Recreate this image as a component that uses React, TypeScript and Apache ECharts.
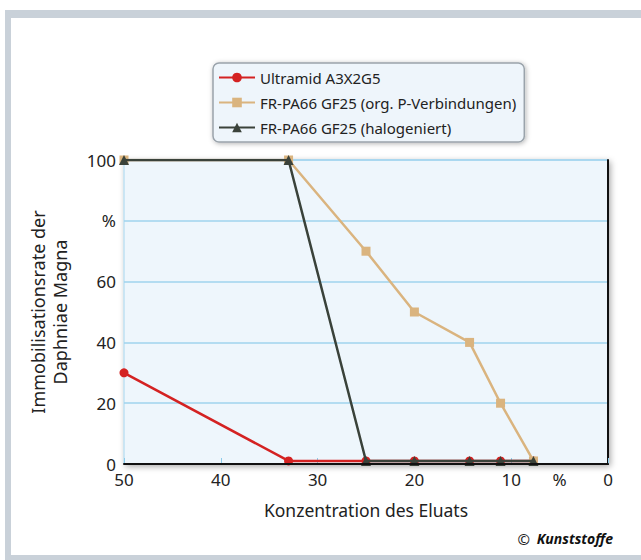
import React, { useEffect, useRef } from "react";
import * as echarts from "echarts";

const concentrations = [50, 33, 25, 20, 14.3, 11.1, 7.7];
const ultramid = [30, 1, 1, 1, 1, 1, 1];
const frOrgP = [100, 100, 70, 50, 40, 20, 1];
const frHalogen = [100, 100, 1, 1, 1, 1, 1];
const seriesNames = [
  "Ultramid A3X2G5",
  "FR-PA66 GF25 (org. P-Verbindungen)",
  "FR-PA66 GF25 (halogeniert)",
];
const yTickLabels: Record<number, string> = { 0: "0", 20: "20", 40: "40", 60: "60", 80: "%", 100: "100" };
const xTickLabels: Record<number, string> = { 50: "50", 40: "40", 30: "30", 20: "20", 10: "10", 5: "%", 0: "0" };

const FONT = "Noto Sans";

export default function App() {
  const ref = useRef<HTMLDivElement>(null);
  useEffect(() => {
    document.body.style.margin = "0";
    const chart = echarts.init(ref.current!, undefined, { renderer: "svg" });
    const pair = (ys: number[]) => concentrations.map((x, i) => [x, ys[i]]);
    chart.setOption({
      animation: false,
      backgroundColor: "#ffffff",
      textStyle: { fontFamily: FONT },
      graphic: [
        { type: "rect", z: -10, silent: true, shape: { x: 5, y: 10, width: 640, height: 560 }, style: { fill: "#c9d1d9" } },
        { type: "rect", z: -9, silent: true, shape: { x: 11, y: 18, width: 640, height: 537 }, style: { fill: "#ffffff" } },
        {
          type: "text",
          right: 28,
          top: 531,
          style: {
            rich: {
              c: { fontSize: 15, fontFamily: FONT, fill: "#222" },
              k: { fontSize: 14, fontFamily: FONT, fontWeight: "bold", fontStyle: "italic", fill: "#111" },
            },
            text: "{c|©}  {k|Kunststoffe}",
          },
        },
      ],
      legend: {
        orient: "vertical",
        left: 213,
        top: 63,
        padding: [6, 8, 6, 5],
        itemGap: 8,
        itemWidth: 36,
        itemHeight: 12,
        backgroundColor: "#eef5fb",
        borderColor: "#9aa3ab",
        borderWidth: 1.5,
        borderRadius: 6,
        shadowBlur: 5,
        shadowColor: "rgba(0,0,0,0.3)",
        shadowOffsetX: 1,
        shadowOffsetY: 1,
        textStyle: { fontSize: 15, lineHeight: 17, color: "#222", fontFamily: FONT },
        data: seriesNames,
      },
      grid: {
        left: 124,
        right: 33,
        top: 160,
        bottom: 96,
        show: true,
        backgroundColor: "#eef6fc",
        borderColor: "#a6d6ee",
        borderWidth: 1,
        shadowBlur: 6,
        shadowColor: "rgba(0,0,0,0.35)",
        shadowOffsetX: 2,
        shadowOffsetY: 2,
      },
      xAxis: [
        {
          type: "value",
          inverse: true,
          min: 0,
          max: 50,
          interval: 5,
          name: "Konzentration des Eluats",
          nameLocation: "middle",
          nameGap: 37,
          nameTextStyle: { fontSize: 17.5, color: "#222", fontFamily: FONT },
          axisLine: { show: true, lineStyle: { color: "#111", width: 2 } },
          axisTick: { show: false },
          splitLine: { show: false },
          axisLabel: {
            fontSize: 17,
            color: "#222",
            margin: 7,
            fontFamily: FONT,
            formatter: (v: number) => xTickLabels[v] ?? "",
          },
          z: 5,
        },
        {
          type: "value",
          inverse: true,
          min: 0,
          max: 50,
          interval: 10,
          position: "bottom",
          axisLine: { show: false },
          axisTick: { show: true, inside: true, length: 6, lineStyle: { color: "#8ccbea", width: 1 } },
          axisLabel: { show: false },
          splitLine: { show: false },
        },
      ],
      yAxis: {
        type: "value",
        min: 0,
        max: 100,
        interval: 20,
        name: "Immobilisationsrate der\nDaphniae Magna",
        nameLocation: "middle",
        nameGap: 53,
        nameTextStyle: { fontSize: 18, color: "#222", lineHeight: 22, fontFamily: FONT },
        axisLine: { show: true, lineStyle: { color: "#111", width: 2 } },
        axisTick: { show: false },
        splitLine: { show: true, lineStyle: { color: "#9fd3ee", width: 1.5 } },
        axisLabel: {
          fontSize: 17,
          color: "#222",
          margin: 8,
          fontFamily: FONT,
          formatter: (v: number) => yTickLabels[v] ?? "",
        },
      },
      series: [
        {
          name: seriesNames[0],
          type: "line",
          data: pair(ultramid),
          symbol: "circle",
          symbolSize: 9,
          lineStyle: { color: "#d42222", width: 2.5 },
          itemStyle: { color: "#d42222" },
          z: 2,
        },
        {
          name: seriesNames[1],
          type: "line",
          data: pair(frOrgP),
          symbol: "rect",
          symbolSize: 9,
          lineStyle: { color: "#dab47f", width: 2.5 },
          itemStyle: { color: "#dab47f" },
          z: 3,
        },
        {
          name: seriesNames[2],
          type: "line",
          data: pair(frHalogen),
          symbol: "triangle",
          symbolSize: 10,
          lineStyle: { color: "#3a423a", width: 2.5 },
          itemStyle: { color: "#3a423a" },
          z: 4,
        },
      ],
    });
    return () => chart.dispose();
  }, []);
  return <div ref={ref} style={{ width: 641, height: 560 }} />;
}
